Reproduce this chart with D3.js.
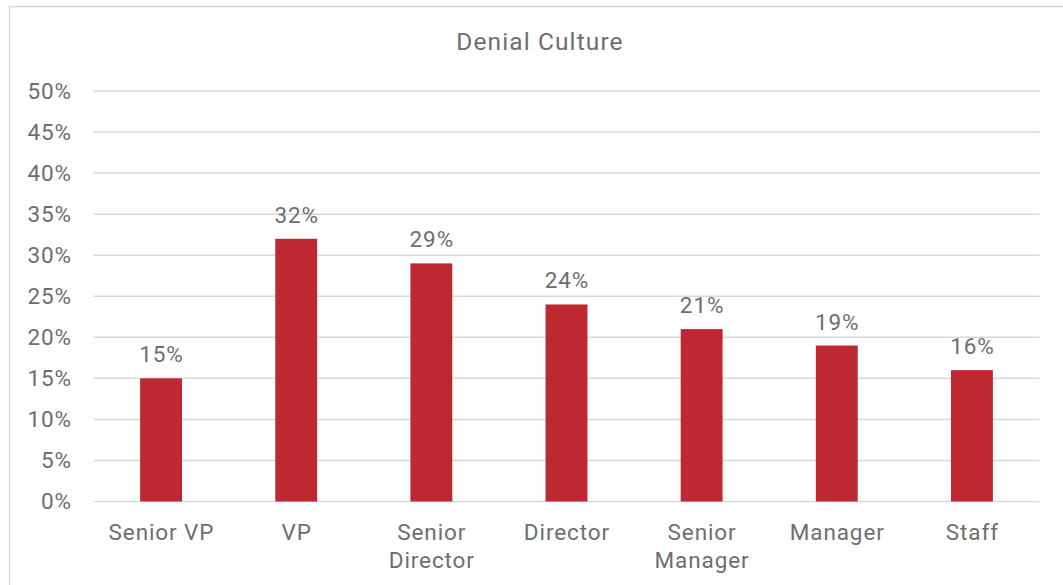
<!DOCTYPE html>
<html>
<head>
<meta charset="utf-8">
<script src="https://cdn.jsdelivr.net/npm/d3@7"></script>
<style>
  html, body { margin: 0; padding: 0; background: #fff; }
  svg { display: block; font-family: Roboto, "Noto Sans", sans-serif; }
</style>
</head>
<body>
<svg id="chart" width="1063" height="585"></svg>
<script>
// Share of respondents reporting a denial culture, by job level
const categories = ["Senior VP", "VP", "Senior Director", "Director", "Senior Manager", "Manager", "Staff"];
const values = [0.15, 0.32, 0.29, 0.24, 0.21, 0.19, 0.16];
const yTicks = [0, 0.05, 0.10, 0.15, 0.20, 0.25, 0.30, 0.35, 0.40, 0.45, 0.50];
const title = "Denial Culture";

const svg = d3.select("#chart");
const textColor = "#6e6e6e";
const gridColor = "#d9d9d9";
const barColor = "#be2830";
const fontSize = 22.5;
const spacing = 0.9;

// Chart frame
svg.append("rect")
  .attr("x", 9.5).attr("y", 6.5)
  .attr("width", 1062).attr("height", 600)
  .attr("fill", "#fff")
  .attr("stroke", gridColor)
  .attr("stroke-width", 1.5);

const plot = { left: 93.5, right: 1039.5, top: 91, bottom: 501.5 };

const x = d3.scaleBand()
  .domain(categories)
  .range([plot.left, plot.right])
  .paddingInner(0.69)
  .paddingOuter(0.345);

const y = d3.scaleLinear()
  .domain([0, 0.5])
  .range([plot.bottom, plot.top]);

// Horizontal gridlines
svg.append("g")
  .selectAll("line")
  .data(yTicks)
  .join("line")
  .attr("x1", plot.left).attr("x2", plot.right)
  .attr("y1", d => y(d)).attr("y2", d => y(d))
  .attr("stroke", gridColor)
  .attr("stroke-width", 1.5);

// Y axis labels
const yAxis = d3.axisLeft(y)
  .tickValues(yTicks)
  .tickFormat(d3.format(".0%"))
  .tickSize(0)
  .tickPadding(0);

svg.append("g")
  .attr("transform", `translate(72,0)`)
  .call(yAxis)
  .call(g => g.select(".domain").remove())
  .call(g => g.selectAll("text")
    .attr("fill", textColor)
    .attr("font-size", fontSize)
    .attr("letter-spacing", spacing)
    .attr("font-family", "Roboto, sans-serif"));

// Bars
svg.append("g")
  .selectAll("rect")
  .data(categories)
  .join("rect")
  .attr("x", d => x(d))
  .attr("width", x.bandwidth())
  .attr("y", (d, i) => y(values[i]))
  .attr("height", (d, i) => y(0) - y(values[i]))
  .attr("fill", barColor);

// Value labels
svg.append("g")
  .selectAll("text")
  .data(categories)
  .join("text")
  .attr("x", d => x(d) + x.bandwidth() / 2 + spacing / 2)
  .attr("y", (d, i) => y(values[i]) - 16)
  .attr("text-anchor", "middle")
  .attr("fill", textColor)
  .attr("font-size", fontSize)
  .attr("letter-spacing", spacing)
  .text((d, i) => d3.format(".0%")(values[i]));

// Category labels, wrapped onto two lines where needed
const catLines = {
  "Senior Director": ["Senior", "Director"],
  "Senior Manager": ["Senior", "Manager"]
};
const xLabels = svg.append("g")
  .selectAll("text")
  .data(categories)
  .join("text")
  .attr("text-anchor", "middle")
  .attr("fill", textColor)
  .attr("font-size", fontSize)
  .attr("letter-spacing", spacing);

xLabels.each(function(d) {
  const lines = catLines[d] || [d];
  const t = d3.select(this);
  lines.forEach((line, i) => {
    t.append("tspan")
      .attr("x", x(d) + x.bandwidth() / 2 + spacing / 2)
      .attr("y", 540 + i * 28)
      .text(line);
  });
});

// Title
svg.append("text")
  .attr("x", 540)
  .attr("y", 50)
  .attr("text-anchor", "middle")
  .attr("fill", textColor)
  .attr("font-size", 24.5)
  .attr("letter-spacing", 1.1)
  .text(title);
</script>
</body>
</html>
